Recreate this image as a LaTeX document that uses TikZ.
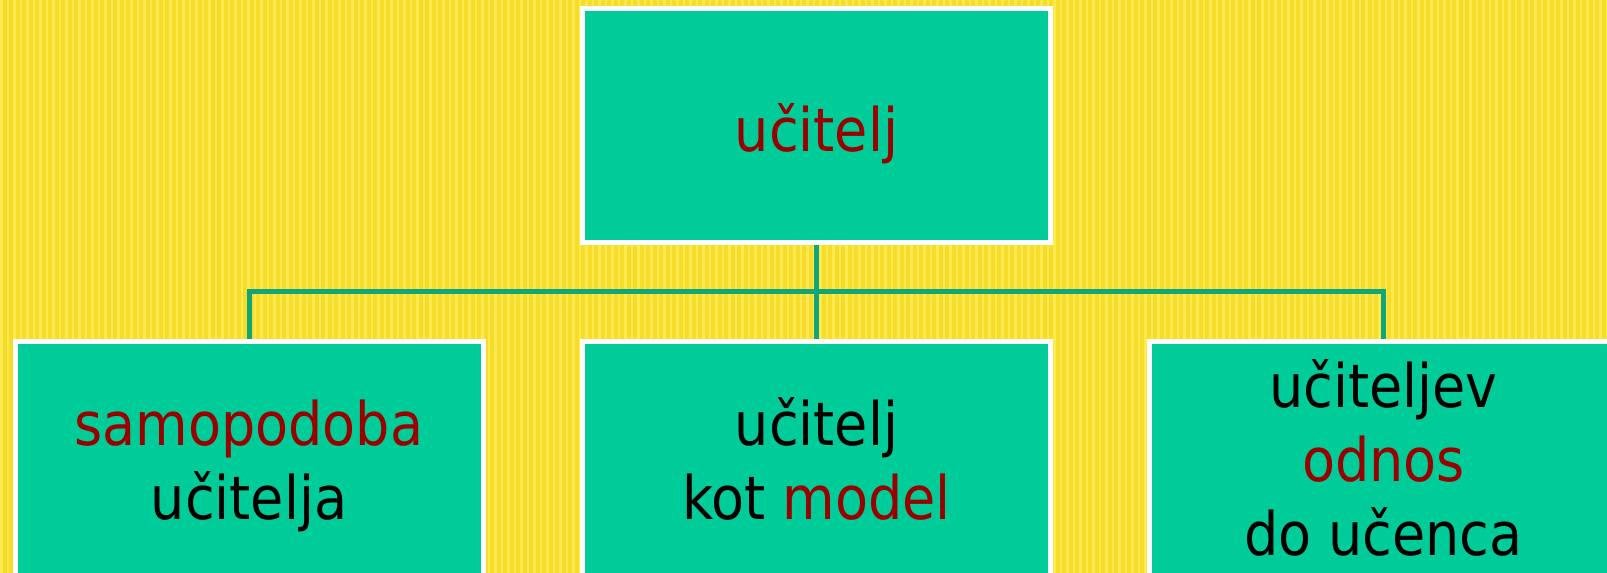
\documentclass[tikz,border=0pt]{standalone}
\usepackage{fontspec}
\setmainfont{DejaVu Sans Condensed}
\usetikzlibrary{positioning,calc,backgrounds}

\definecolor{paper}{HTML}{F8DC2A}
\definecolor{paperstripe}{HTML}{FCEA50}
\definecolor{boxfill}{HTML}{00CC99}
\definecolor{linkcol}{HTML}{10A67A}
\definecolor{accent}{HTML}{990000}

% lines of a box, first baseline lowered by #1 from the box centre
\newcommand{\boxlines}[2]{\raisebox{-#1}[0pt][0pt]{\begin{tabular}[t]{@{}c@{}}#2\end{tabular}}}

\begin{document}
\begin{tikzpicture}[x=1pt,y=1pt,box/.style={rectangle,fill=boxfill,draw=white,line width=5pt,minimum width=468pt,minimum height=234pt,inner sep=0pt,outer sep=0pt,align=center,font=\fontsize{60}{74}\selectfont}, lowbox/.style={box,minimum height=250pt}, links/.style={draw=linkcol,line width=5pt}]
	\useasboundingbox (0,0) rectangle (1607,573);

	\node[box] (teacher) at (816.5,447.5) {\boxlines{26.5pt}{\textcolor{accent}{učitelj}}};
	\node[lowbox, below = 99pt of teacher] (model) {\boxlines{-20.5pt}{učitelj\\kot \textcolor{accent}{model}}};
	\node[lowbox, left = 99.5pt of model] (self-image) {\boxlines{-20.5pt}{\textcolor{accent}{samopodoba}\\učitelja}};
	\node[lowbox, right = 99pt of model] (relation) {\boxlines{-58.5pt}{učiteljev\\\textcolor{accent}{odnos}\\do učenca}};

	\begin{scope}[on background layer]
	% striped paper behind everything
	\fill[paper] (0,0) rectangle (1607,573);
	\foreach \x in {0,6.5,...,1607}
		\fill[paperstripe] (\x,0) rectangle ++(2.8,573);
	\coordinate (bus) at ($(teacher.south)!0.5!(model.north)$);
	\draw[links] (teacher.south) -- (model.north);
	\draw[links] (bus) -| (self-image.north);
	\draw[links] (bus) -| (relation.north);
	\end{scope}
\end{tikzpicture}
\end{document}
